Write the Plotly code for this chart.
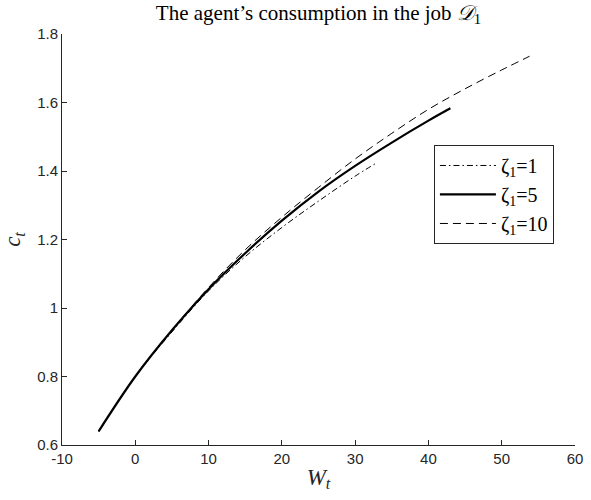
import plotly.graph_objects as go

# Data
x_z1 = [-5, 0, 5, 10, 15, 20, 25, 30, 32.8]
y_z1 = [0.64, 0.80, 0.93, 1.05, 1.15, 1.235, 1.312, 1.385, 1.422]

x_z5 = [-5, 0, 5, 10, 15, 20, 25, 30, 35, 40, 43]
y_z5 = [0.64, 0.80, 0.935, 1.055, 1.16, 1.255, 1.34, 1.415, 1.483, 1.547, 1.583]

x_z10 = [-5, 0, 5, 10, 15, 20, 25, 30, 35, 40, 45, 50, 53.8]
y_z10 = [0.64, 0.80, 0.935, 1.06, 1.17, 1.265, 1.352, 1.435, 1.51, 1.58, 1.64, 1.695, 1.735]

names = ["ζ<sub>1</sub>=1", "ζ<sub>1</sub>=5", "ζ<sub>1</sub>=10"]
x_ticks = [-10, 0, 10, 20, 30, 40, 50, 60]
x_tick_text = ["-10", "0", "10", "20", "30", "40", "50", "60"]
y_ticks = [0.6, 0.8, 1.0, 1.2, 1.4, 1.6, 1.8]
y_tick_text = ["0.6", "0.8", "1", "1.2", "1.4", "1.6", "1.8"]

fig = go.Figure()
fig.add_trace(go.Scatter(x=x_z1, y=y_z1, mode="lines", name=names[0], line_shape="spline",
                         line=dict(color="black", width=1, dash="6px,3px,1.5px,3px")))
fig.add_trace(go.Scatter(x=x_z5, y=y_z5, mode="lines", name=names[1], line_shape="spline",
                         line=dict(color="black", width=2.2)))
fig.add_trace(go.Scatter(x=x_z10, y=y_z10, mode="lines", name=names[2], line_shape="spline",
                         line=dict(color="black", width=1, dash="8px,5px")))

axis_color = "#262626"
serif = "Liberation Serif, DejaVu Serif, serif"
fig.update_layout(
    width=591, height=500,
    margin=dict(l=62, r=16, t=34, b=55, autoexpand=False),
    paper_bgcolor="white", plot_bgcolor="white",
    title=dict(text="The agent’s consumption in the job <i>𝒟</i><sub>1</sub>",
               x=0.5, xref="paper", xanchor="center", y=0.99, yanchor="top", automargin=False,
               font=dict(family=serif, size=21, color="black")),
    font=dict(family="Liberation Sans, Arial, sans-serif", size=13, color=axis_color),
    legend=dict(x=0.725, y=0.73, xanchor="left", yanchor="top",
                bordercolor=axis_color, borderwidth=1, bgcolor="white",
                font=dict(family=serif, size=20, color="black"),
                itemwidth=56, tracegroupgap=0),
    xaxis=dict(range=[-10, 60], tickvals=x_ticks, ticktext=x_tick_text, showline=True,
               linecolor=axis_color, automargin=False,
               linewidth=1, ticks="inside", ticklen=5, tickcolor=axis_color,
               showgrid=False, zeroline=False, mirror=False,
               tickfont=dict(size=15, color=axis_color),
               title=dict(text="<i>W</i><sub><i>t</i></sub>", standoff=2,
                          font=dict(family=serif, size=23, color=axis_color))),
    yaxis=dict(range=[0.6, 1.8], tickvals=y_ticks, ticktext=y_tick_text, showline=True,
               linecolor=axis_color, automargin=False, linewidth=1, ticks="inside",
               ticklen=5, tickcolor=axis_color,
               showgrid=False, zeroline=False, mirror=False,
               tickfont=dict(size=15, color=axis_color),
               title=dict(text="<i>c</i><sub><i>t</i></sub>", standoff=12,
                          font=dict(family=serif, size=23, color=axis_color))),
)

fig.write_html("out.html", config={"displayModeBar": False},
               post_script="document.body.style.margin='0';")
